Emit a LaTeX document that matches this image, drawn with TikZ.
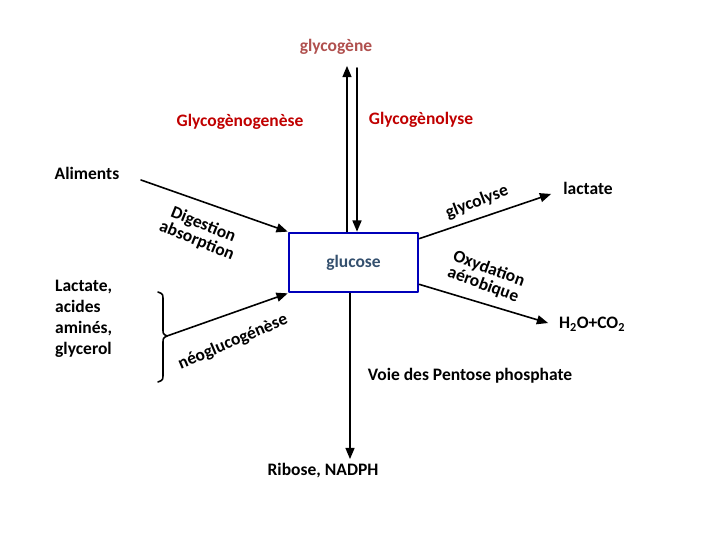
\documentclass[tikz,border=0pt]{standalone}
\usepackage{fontspec}
\setmainfont{Carlito}
\usetikzlibrary{arrows}
\definecolor{glyred}{RGB}{192,0,0}
\definecolor{glycogen}{RGB}{176,80,78}
\definecolor{boxblue}{RGB}{0,0,185}
\definecolor{glutext}{RGB}{52,80,110}

\begin{document}
\begin{tikzpicture}[line cap=round,line join=round,>=triangle 45,x=1pt,y=-1pt,
	lbl/.style={font=\fontsize{17.5}{20}\selectfont\bfseries},
	tilt/.style={font=\fontsize{17.5}{17}\selectfont\bfseries,align=center,inner sep=0pt},
	flow/.style={->,line width=1.6pt}]
	\useasboundingbox (0,0) rectangle (720,540);
	% glucose box
	\node[draw=boxblue,line width=2.8pt,minimum width=129pt,minimum height=59pt,inner sep=0pt,
		text=glutext,lbl] (glucose) at (353.5,262.5) {glucose};
	% stocks and pathways
	\node[lbl,text=glycogen] (glycogene) at (336,47) {glycogène};
	\node[lbl,text=glyred] (genese) at (240,122) {Glycogènogenèse};
	\node[lbl,text=glyred] (lyse) at (421,120) {Glycogènolyse};
	\node[lbl] (aliments) at (87,173) {Aliments};
	\node[lbl] (lactate) at (588,188) {lactate};
	\node[lbl] (h2o) at (592,324) {H\textsubscript{2}O+CO\textsubscript{2}};
	\node[lbl] (ribose) at (323,471) {Ribose, NADPH};
	\node[lbl] (pentose) at (470,376) {Voie des Pentose phosphate};
	\node[lbl,align=left,anchor=north west,font=\fontsize{17.5}{21}\selectfont\bfseries,inner sep=0pt] (precurseurs) at (55,280) {Lactate,\\acides\\aminés,\\glycerol};
	% free ends
	\coordinate (up-top) at (347,66);
	\coordinate (dn-top) at (357,68);
	\coordinate (ali-start) at (141,180);
	\coordinate (brace-tip) at (167,336);
	\coordinate (lac-end) at (551,194);
	\coordinate (h2o-end) at (548,323);
	\coordinate (rib-end) at (350,459);
	% arrows
	\draw[flow] (glucose.north -| up-top) -- (up-top);
	\draw[flow] (dn-top) -- (glucose.north -| dn-top);
	\draw[flow] (ali-start) -- (glucose.north west);
	\draw[flow] (brace-tip) -- (glucose.south west);
	\draw[flow] ([yshift=-7pt]glucose.north east) -- (lac-end);
	\draw[flow] ([yshift=9pt]glucose.south east) -- (h2o-end);
	\draw[flow] (glucose.south -| rib-end) -- (rib-end);
	% brace
	\draw[line width=1.6pt] (158,292) .. controls (163,294) .. (163,300) -- (163,329)
		.. controls (163,334) .. (brace-tip) .. controls (163,338) .. (163,344) -- (163,374)
		.. controls (163,380) .. (158,382);
	% tilted labels
	\node[tilt,rotate=-22] (digestion) at (200,233) {Digestion\\absorption};
	\node[tilt,rotate=21] (glycolyse) at (477,202) {glycolyse};
	\node[tilt,rotate=-20] (oxydation) at (486,277) {Oxydation\\aérobique};
	\node[tilt,rotate=23] (neo) at (233,342) {néoglucogénèse};
\end{tikzpicture}
\end{document}
